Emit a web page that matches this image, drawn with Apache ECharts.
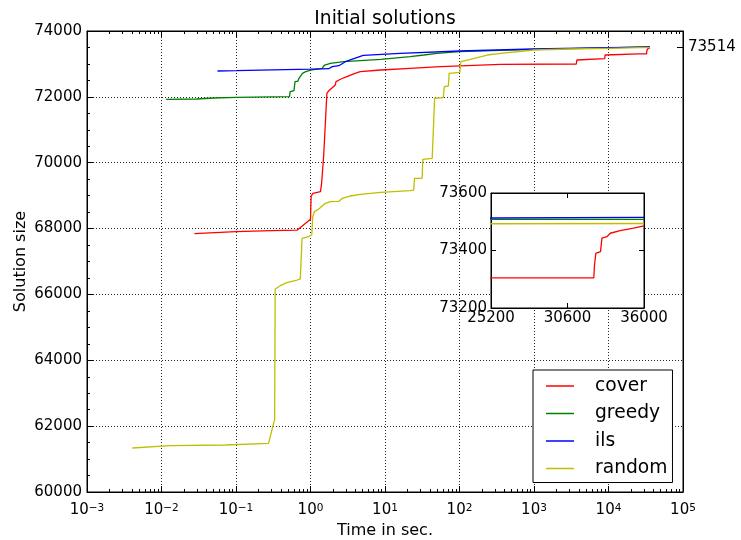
<!DOCTYPE html>
<html>
<head>
<meta charset="utf-8">
<script src="https://cdn.jsdelivr.net/npm/echarts@6/dist/echarts.min.js"></script>
<style>
  html, body { margin: 0; padding: 0; background: #fff; }
  #chart { width: 741px; height: 540px; }
</style>
</head>
<body>
<div id="chart"></div>
<script>
// Best solution size found so far, as [time in seconds, size], per initial construction
const coverPts = [
  [0.0277, 67844], [0.1, 67905], [0.3, 67935], [0.66, 67950], [1.0, 68281],
  [1.02, 68989], [1.08, 69070], [1.36, 69120], [1.41, 69375], [1.5, 70183],
  [1.55, 70234], [1.66, 72108], [1.75, 72178], [2.15, 72360], [2.2, 72461],
  [2.56, 72542], [3.07, 72612], [3.96, 72715], [4.65, 72764], [8.8, 72815],
  [21.8, 72867], [55.6, 72916], [356, 72985], [3700, 72998], [3760, 73119],
  [8900, 73159], [9000, 73271], [25200, 73305], [32460, 73305], [32500, 73346],
  [32600, 73390], [32930, 73396], [33030, 73443], [33380, 73448], [33620, 73460],
  [34320, 73469], [35260, 73478], [36000, 73486]
];
const greedyPts = [
  [0.01153, 71926], [0.0297, 71935], [0.0498, 71965], [0.1, 71986], [0.523, 72005],
  [0.533, 72157], [0.6, 72190], [0.62, 72460], [0.68, 72480], [0.7, 72563],
  [0.78, 72715], [0.85, 72760], [1.0, 72815], [1.43, 72867], [1.55, 72967],
  [1.85, 73019], [2.79, 73068], [8.8, 73140], [21.8, 73220], [33.3, 73271],
  [50, 73323], [100, 73372], [1000, 73440], [10000, 73490], [25200, 73508],
  [36000, 73508]
];
const ilsPts = [
  [0.0564, 72785], [0.1, 72795], [0.46, 72830], [1.0, 72840], [1.43, 72850],
  [1.75, 72855], [1.96, 72916], [2.4, 72946], [2.94, 73068], [3.5, 73130],
  [5.1, 73262], [15.9, 73323], [100, 73393], [1000, 73453], [9900, 73493],
  [25200, 73513], [36000, 73515]
];
const randomPts = [
  [0.00406, 61336], [0.013, 61406], [0.0715, 61427], [0.273, 61478], [0.33, 62207],
  [0.336, 66165], [0.394, 66265], [0.48, 66356], [0.66, 66438], [0.73, 66470],
  [0.77, 67704], [0.94, 67754], [1.04, 67805], [1.07, 68361], [1.13, 68513],
  [1.28, 68585], [1.58, 68767], [1.85, 68816], [2.4, 68825], [2.66, 68919],
  [3.4, 68989], [4.65, 69040], [8.8, 69102], [21.8, 69150], [24.3, 69170],
  [24.9, 69526], [31.5, 69526], [32.2, 70103], [43, 70134], [44.6, 70993],
  [46.3, 71956], [60.4, 71974], [62.5, 72308], [70.9, 72330], [72.7, 72715],
  [101, 72745], [104, 73068], [140, 73140], [236, 73271], [356, 73323],
  [1000, 73423], [2800, 73453], [9900, 73474], [25200, 73493], [36000, 73494]
];

const seriesNames = ['cover', 'greedy', 'ils', 'random'];
const seriesPts = [coverPts, greedyPts, ilsPts, randomPts];
const seriesColors = ['#ff0000', '#008000', '#0000ff', '#bfbf00'];

// Tick values
const yMainTicks = { min: 60000, max: 74000, step: 2000 };
const finalSizeTick = [73514];
const insetXTicks = [25200, 30600, 36000];
const insetYTicks = { min: 73200, max: 73600, step: 200 };

const FONT = 'DejaVu Sans';
const supMinus = '\u2212';

// minor ticks of the log axis: 2..9 x 10^k
const minorLogTicks = [];
for (let k = -3; k <= 4; k++) {
  for (let m = 2; m <= 9; m++) {
    minorLogTicks.push(parseFloat((m * Math.pow(10, k)).toPrecision(3)));
  }
}

const dotted = { color: '#000', width: 1, type: [1, 2], opacity: 0.85 };
const black = { color: '#000', width: 1 };

function logLabel(v) {
  const e = Math.round(Math.log10(v));
  const s = e < 0 ? supMinus + (-e) : String(e);
  return '{b|10}{e|' + s + '}';
}
const logRich = {
  b: { fontFamily: FONT, fontSize: 15, color: '#000', lineHeight: 15, padding: [3, 0, 0, 0], verticalAlign: 'bottom' },
  e: { fontFamily: FONT, fontSize: 10.5, color: '#000', lineHeight: 10.5, verticalAlign: 'top' }
};

function mainLogAxis(pos, opts) {
  return Object.assign({
    type: 'log', logBase: 10, gridIndex: 0, position: pos,
    min: 0.001, max: 100000,
    axisLine: { show: true, lineStyle: black },
    axisTick: { show: true, inside: true, length: 6, lineStyle: black },
    axisLabel: { show: false },
    splitLine: { show: false },
    minorTick: { show: false },
    minorSplitLine: { show: false }
  }, opts);
}

const xAxes = [
  mainLogAxis('bottom', {
    splitLine: { show: true, lineStyle: dotted },
    axisLabel: { show: true, margin: 11, formatter: logLabel, rich: logRich },
    name: 'Time in sec.', nameLocation: 'middle', nameGap: 31, nameMoveOverlap: false,
    nameTextStyle: { fontFamily: FONT, fontSize: 16, color: '#000' }
  }),
  mainLogAxis('bottom', {
    axisLine: { show: false },
    axisTick: { show: true, inside: true, length: 3, lineStyle: black, customValues: minorLogTicks }
  }),
  mainLogAxis('top', {}),
  mainLogAxis('top', {
    axisLine: { show: false },
    axisTick: { show: true, inside: true, length: 3, lineStyle: black, customValues: minorLogTicks }
  }),
  {
    type: 'value', gridIndex: 1, position: 'bottom', min: 25200, max: 36000, z: 4,
    axisLine: { show: true, lineStyle: black },
    axisTick: { show: true, inside: true, length: 5, lineStyle: black, customValues: insetXTicks },
    axisLabel: { show: true, margin: 3, customValues: insetXTicks, formatter: v => String(v),
      fontFamily: FONT, fontSize: 15, color: '#000' },
    splitLine: { show: false }
  },
  {
    type: 'value', gridIndex: 1, position: 'top', min: 25200, max: 36000, z: 4,
    axisLine: { show: true, lineStyle: black },
    axisTick: { show: true, inside: true, length: 5, lineStyle: black, customValues: insetXTicks },
    axisLabel: { show: false },
    splitLine: { show: false }
  }
];

const yAxes = [
  {
    type: 'value', gridIndex: 0, position: 'left',
    min: yMainTicks.min, max: yMainTicks.max, interval: yMainTicks.step,
    axisLine: { show: true, lineStyle: black },
    axisTick: { show: true, inside: true, length: 6, lineStyle: black },
    minorTick: { show: true, splitNumber: 4, length: 3, lineStyle: black },
    splitLine: { show: true, lineStyle: dotted },
    axisLabel: { margin: 5, formatter: v => String(v), fontFamily: FONT, fontSize: 15, color: '#000' },
    name: 'Solution size', nameLocation: 'middle', nameGap: 58, nameMoveOverlap: false,
    nameTextStyle: { fontFamily: FONT, fontSize: 16, color: '#000' }
  },
  {
    type: 'value', gridIndex: 0, position: 'right',
    min: yMainTicks.min, max: yMainTicks.max,
    axisLine: { show: true, lineStyle: black },
    axisTick: { show: true, inside: true, length: 6, lineStyle: black, customValues: finalSizeTick },
    splitLine: { show: false },
    axisLabel: { show: true, margin: 5, customValues: finalSizeTick, formatter: v => String(v),
      fontFamily: FONT, fontSize: 15, color: '#000' }
  },
  {
    type: 'value', gridIndex: 1, position: 'left', z: 4,
    min: insetYTicks.min, max: insetYTicks.max, interval: insetYTicks.step,
    axisLine: { show: true, lineStyle: black },
    axisTick: { show: true, inside: true, length: 5, lineStyle: black },
    splitLine: { show: false },
    axisLabel: { margin: 4, formatter: v => String(v), fontFamily: FONT, fontSize: 15, color: '#000' }
  },
  {
    type: 'value', gridIndex: 1, position: 'right', z: 4,
    min: insetYTicks.min, max: insetYTicks.max, interval: insetYTicks.step,
    axisLine: { show: true, lineStyle: black },
    axisTick: { show: true, inside: true, length: 5, lineStyle: black },
    splitLine: { show: false },
    axisLabel: { show: false }
  }
];

const series = [];
seriesNames.forEach((name, i) => {
  series.push({
    name, type: 'line', xAxisIndex: 0, yAxisIndex: 0, data: seriesPts[i],
    showSymbol: false, symbol: 'none', z: 2,
    lineStyle: { color: seriesColors[i], width: 1.3 }, itemStyle: { color: seriesColors[i] }
  });
});
// zoomed view of the last three hours
seriesNames.forEach((name, i) => {
  series.push({
    name, type: 'line', xAxisIndex: 4, yAxisIndex: 2, data: seriesPts[i],
    showSymbol: false, symbol: 'none', z: 5, clip: true,
    lineStyle: { color: seriesColors[i], width: 1.3 }, itemStyle: { color: seriesColors[i] }
  });
});

const chart = echarts.init(document.getElementById('chart'), null, { renderer: 'canvas' });
chart.setOption({
  animation: false,
  backgroundColor: '#fff',
  textStyle: { fontFamily: FONT },
  graphic: [{
    type: 'text', x: 385, y: 19, z: 10,
    style: { text: 'Initial solutions', font: '18.7px "DejaVu Sans"', fill: '#000', align: 'center', verticalAlign: 'middle' }
  }],
  grid: [
    { left: 87, top: 31, width: 596, height: 461, show: true, borderColor: '#000', borderWidth: 1,
      backgroundColor: 'transparent', containLabel: false, outerBoundsMode: 'none' },
    { left: 491, top: 193, width: 153, height: 115, show: true, borderColor: '#000', borderWidth: 1,
      backgroundColor: '#fff', z: 3, containLabel: false, outerBoundsMode: 'none' }
  ],
  legend: {
    data: seriesNames, orient: 'vertical', left: 533, top: 370, z: 6,
    padding: [6, 5, 4, 13], itemGap: 7.5, itemWidth: 28, itemHeight: 1.5, icon: 'rect',
    backgroundColor: '#fff', borderColor: '#000', borderWidth: 1, borderRadius: 0,
    textStyle: { fontFamily: FONT, fontSize: 18.7, color: '#000', lineHeight: 20, padding: [0, 0, 0, 16] }
  },
  xAxis: xAxes,
  yAxis: yAxes,
  series
});
</script>
</body>
</html>
